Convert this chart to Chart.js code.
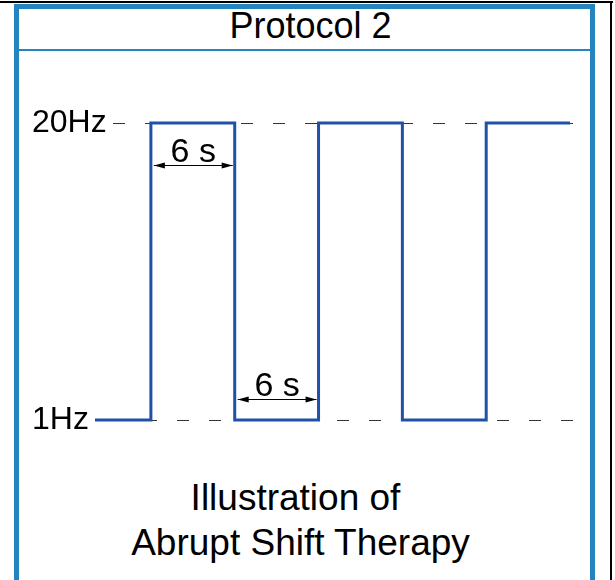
<!DOCTYPE html>
<html>
<head>
<meta charset="utf-8">
<script src="https://cdn.jsdelivr.net/npm/chart.js@4"></script>
<style>
  html, body { margin: 0; padding: 0; background: #fff; }
  body { width: 615px; height: 580px; position: relative; overflow: hidden;
         font-family: "Liberation Sans", Arial, sans-serif; }
  #topLine { position: absolute; left: 0; top: 1px; width: 613px; height: 2px; background: #000; }
  #rightLine { position: absolute; left: 610px; top: 1px; width: 2px; height: 579px; background: #000; }
  #frame { position: absolute; left: 14px; top: 4px; width: 571px; height: 574px;
           border: 5px solid #2484be; border-bottom: 1px solid #5aa6d6; border-top-width: 5px; }
  #sep { position: absolute; left: 19px; top: 49px; width: 571px; height: 2px; background: #2484be; }
  .txt { position: absolute; width: 571px; text-align: center; color: #000; white-space: nowrap; }
  #title { left: 25px; top: 8px; font-size: 36px; line-height: 36px; }
  #cap1 { left: 10px; top: 479px; font-size: 37px; line-height: 37px; }
  #cap2 { left: 15px; top: 524px; font-size: 37px; line-height: 37px; }
  canvas { position: absolute; left: 0; top: 0; }
</style>
</head>
<body>
<div id="topLine"></div>
<div id="rightLine"></div>
<div id="frame"></div>
<div id="sep"></div>
<div class="txt" id="title">Protocol 2</div>
<div class="txt" id="cap1">Illustration of</div>
<div class="txt" id="cap2">Abrupt Shift Therapy</div>
<canvas id="chart" width="615" height="580"></canvas>
<script>
// square wave: time in seconds, frequency in Hz
const waveTime = [0, 4, 4, 10, 10, 16, 16, 22, 22, 28, 28, 34];
const waveHz   = [1, 1, 20, 20, 1, 1, 20, 20, 1, 1, 20, 20];

const yTicks = [1, 20];
const yTickLabels = ['1Hz', '20Hz'];

// "6 s" duration markers
const spanStart = [4, 10];
const spanEnd   = [10, 16];
const spanLevel = [17.3, 2.34];
const spanText  = ['6 s', '6 s'];

const points = waveTime.map((t, i) => ({ x: t, y: waveHz[i] }));

const spanArrows = {
    id: 'spanArrows',
    afterDatasetsDraw(chart) {
        const ctx = chart.ctx;
        const xs = chart.scales.x, ys = chart.scales.y;
        ctx.save();
        ctx.strokeStyle = '#000';
        ctx.fillStyle = '#000';
        ctx.lineWidth = 1;
        spanStart.forEach((s, i) => {
            const x1 = xs.getPixelForValue(s) + 3;
            const x2 = xs.getPixelForValue(spanEnd[i]) - 2;
            const y = Math.round(ys.getPixelForValue(spanLevel[i])) + 0.5;
            ctx.beginPath();
            ctx.moveTo(x1, y);
            ctx.lineTo(x2, y);
            ctx.stroke();
            // arrow heads
            ctx.beginPath();
            ctx.moveTo(x1, y);
            ctx.lineTo(x1 + 11, y - 3);
            ctx.lineTo(x1 + 11, y + 3);
            ctx.closePath();
            ctx.fill();
            ctx.beginPath();
            ctx.moveTo(x2, y);
            ctx.lineTo(x2 - 11, y - 3);
            ctx.lineTo(x2 - 11, y + 3);
            ctx.closePath();
            ctx.fill();
            ctx.font = '34px "Liberation Sans", Arial, sans-serif';
            ctx.textAlign = 'center';
            ctx.textBaseline = 'alphabetic';
            ctx.fillText(spanText[i], (x1 + x2) / 2, y - 4);
        });
        ctx.restore();
    }
};

new Chart(document.getElementById('chart').getContext('2d'), {
    type: 'line',
    data: {
        datasets: [{
            data: points,
            borderColor: '#2050a8',
            borderWidth: 3,
            pointRadius: 0,
            tension: 0,
            fill: false,
            clip: false
        }]
    },
    options: {
        responsive: false,
        devicePixelRatio: 1,
        animation: false,
        layout: { padding: { left: 32, right: 37, top: 123, bottom: 160 } },
        plugins: { legend: { display: false }, title: { display: false }, tooltip: { enabled: false } },
        scales: {
            x: { type: 'linear', min: 1.074, max: 34.57, display: false },
            y: {
                type: 'linear',
                min: 1,
                max: 20,
                afterBuildTicks: (scale) => { scale.ticks = yTicks.map(v => ({ value: v })); },
                afterFit: (scale) => { scale.width = 78; },
                ticks: {
                    color: '#000',
                    crossAlign: 'far',
                    padding: 2,
                    font: { family: '"Liberation Sans", Arial, sans-serif', size: 32 },
                    callback: (v) => yTickLabels[yTicks.indexOf(v)]
                },
                grid: { color: '#333', lineWidth: 1, drawTicks: false },
                border: { display: false, dash: [12, 20], dashOffset: 29 }
            }
        }
    },
    plugins: [spanArrows]
});
</script>
</body>
</html>
